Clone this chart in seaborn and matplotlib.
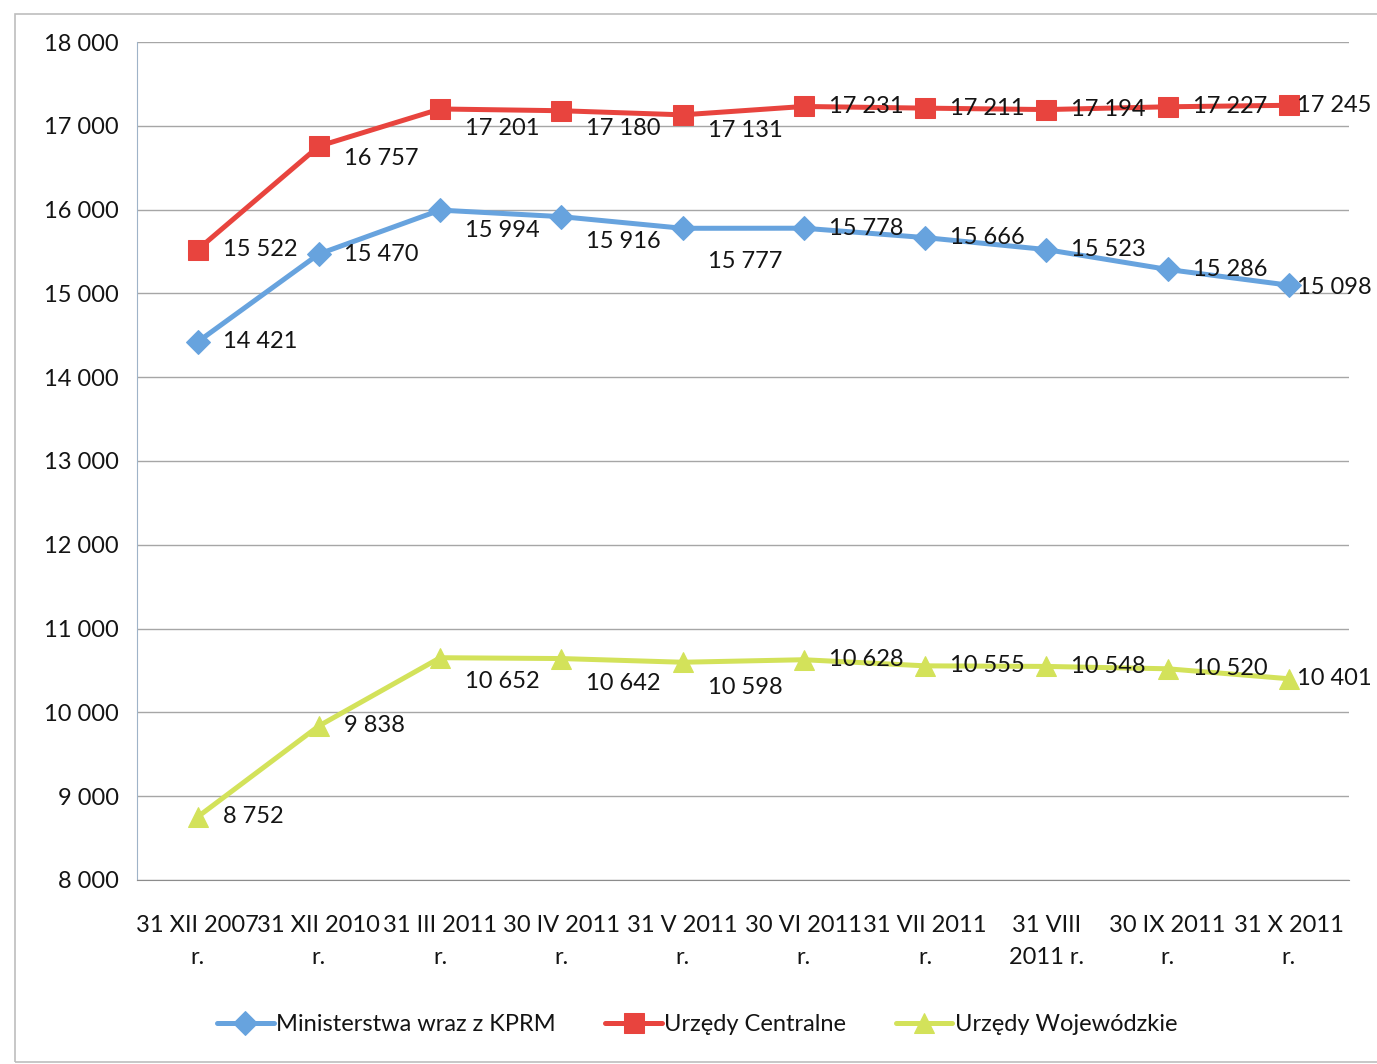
import numpy as np
import pandas as pd
import matplotlib
matplotlib.use('Agg')
import matplotlib.pyplot as plt
import seaborn as sns
from matplotlib.patches import Rectangle
from matplotlib.ticker import FuncFormatter, MultipleLocator

# ── Data ──────────────────────────────────────────────────────────────────────
dates = ['31 XII 2007\nr.', '31 XII 2010\nr.', '31 III 2011\nr.', '30 IV 2011\nr.',
         '31 V 2011\nr.', '30 VI 2011\nr.', '31 VII 2011\nr.', '31 VIII\n2011 r.',
         '30 IX 2011\nr.', '31 X 2011\nr.']
ministerstwa = [14421, 15470, 15994, 15916, 15777, 15778, 15666, 15523, 15286, 15098]
centralne    = [15522, 16757, 17201, 17180, 17131, 17231, 17211, 17194, 17227, 17245]
wojewodzkie  = [8752, 9838, 10652, 10642, 10598, 10628, 10555, 10548, 10520, 10401]

BLUE   = '#67A3DE'
RED    = '#E8443E'
YELLOW = '#D3E25A'
TEXT   = '#141414'

sns.set_style('white')
plt.rcParams['font.family'] = ['Lato', 'DejaVu Sans']

fig = plt.figure(figsize=(13.77, 10.64), dpi=100)
ax = fig.add_axes([0.0995, 0.173, 0.8805, 0.7875])

# outer chart frame
fig.patches.append(Rectangle((0.011, 0.002), 0.99, 0.985, transform=fig.transFigure,
                             fill=False, edgecolor='#BDBDBD', linewidth=1.2))

x = np.arange(len(dates))
series = [
    ('Ministerstwa wraz z KPRM', ministerstwa, BLUE, 'D', 12),
    ('Urzędy Centralne', centralne, RED, 's', 14),
    ('Urzędy Wojewódzkie', wojewodzkie, YELLOW, '^', 14),
]
# label offsets in points (dy) – middle points are pushed below the line
label_dy = {
    'Ministerstwa wraz z KPRM': [0, 0, -15, -18, -24, 0, 0, 0, 0, -2],
    'Urzędy Centralne':         [0, -9, -14, -13, -11, 0, 0, 0, 0, 0],
    'Urzędy Wojewódzkie':       [0, 0, -17, -18, -18, 0, 0, 0, 0, 0],
}

for name, vals, col, mk, ms in series:
    sns.lineplot(x=x, y=vals, ax=ax, color=col, linewidth=3.6, marker=mk,
                 markersize=ms, markeredgecolor=col, label=name)
    for i, v in enumerate(vals):
        dx = 6 if i == len(vals) - 1 else 18
        ax.annotate(f'{v:,}'.replace(',', ' '), (x[i], v), xytext=(dx, label_dy[name][i]),
                    textcoords='offset points', ha='left', va='center',
                    fontsize=17, color=TEXT)

ax.set_xlim(-0.5, len(dates) - 0.5)
ax.set_ylim(8000, 18000)
ax.yaxis.set_major_locator(MultipleLocator(1000))
ax.yaxis.set_major_formatter(FuncFormatter(lambda v, p: f'{int(v):,}'.replace(',', ' ')))
ax.set_xticks(x)
ax.set_xticklabels(dates, fontsize=17, color=TEXT, linespacing=1.65)
ax.set_xticks(np.arange(-0.5, len(dates)), minor=True)
ax.tick_params(axis='x', which='major', length=0, pad=25)
ax.tick_params(axis='x', which='minor', length=7, color='#8C8C8C', direction='out')
ax.tick_params(axis='y', labelsize=17, labelcolor=TEXT, length=8,
               color='#9A9A9A', direction='out', pad=5)
ax.grid(axis='y', color='#A6A6A6', linewidth=1.0)
ax.set_axisbelow(True)
for s in ['top', 'right']:
    ax.spines[s].set_visible(False)
ax.spines['left'].set_color('#9FB3C8')
ax.spines['bottom'].set_color('#8C8C8C')
ax.set_xlabel('')
ax.set_ylabel('')

leg = ax.legend(loc='center', bbox_to_anchor=(0.462, -0.173), ncol=3, frameon=False,
                fontsize=17, handlelength=2.4, handletextpad=0.1, columnspacing=2.1)
for t in leg.get_texts():
    t.set_color(TEXT)

fig.savefig('out.png', dpi=100)
